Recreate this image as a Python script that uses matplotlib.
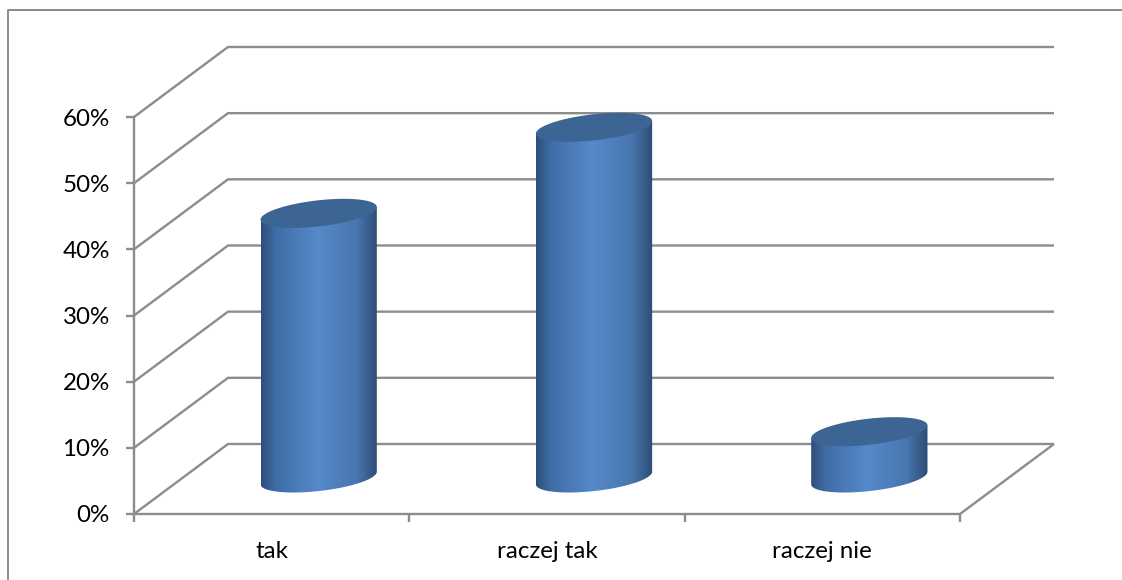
#!/usr/bin/env python
import matplotlib
matplotlib.use('Agg')
import matplotlib.pyplot as plt
import numpy as np
from matplotlib.lines import Line2D
from matplotlib.patches import Polygon

categories = ['tak', 'raczej tak', 'raczej nie']
values = [0.40, 0.53, 0.07]
y_ticks = [0.0, 0.1, 0.2, 0.3, 0.4, 0.5, 0.6]
y_labels = ['0%', '10%', '20%', '30%', '40%', '50%', '60%']

W, H = 1122, 580
GRID = '#8c8c8c'
FRAME = '#8a8a8a'
TOP = '#3c6594'

# front plane of the 3d box, in pixels
LEFT, RIGHT, BOTTOM, TOPY = 134, 960, 514, 117
DX_PX, DY_PX = 94, 70
A_PX, B_PX, TILT = 58.5, 13.0, np.radians(6.5)

plt.rcParams['font.family'] = ['Lato', 'DejaVu Sans']
fig = plt.figure(figsize=(W / 100, H / 100), dpi=100)
ax = fig.add_axes([LEFT / W, 1 - BOTTOM / H, (RIGHT - LEFT) / W, (BOTTOM - TOPY) / H])
ax.axis('off')

px_x = (RIGHT - LEFT) / 3
px_y = (BOTTOM - TOPY) / 0.6
dx = DX_PX / px_x
dy = DY_PX / px_y


def line(xs, ys):
    ax.plot(xs, ys, color=GRID, lw=1.7, clip_on=False, solid_capstyle='butt')


def ellipse(cx, cy, t):
    # tilted ellipse, sizes in pixels
    ex = A_PX * np.cos(t) * np.cos(TILT) - B_PX * np.sin(t) * np.sin(TILT)
    ey = A_PX * np.cos(t) * np.sin(TILT) + B_PX * np.sin(t) * np.cos(TILT)
    return cx + ex / px_x, cy + ey / px_y


for v in y_ticks:
    line([0, dx, 3 + dx], [v, v + dy, v + dy])
    line([-8 / px_x, 0], [v, v])
line([0, 0], [0, 0.6])
line([0, 3, 3 + dx], [0, 0, dy])
for i in range(4):
    line([i, i], [0, -8 / px_y])

for v, label in zip(y_ticks, y_labels):
    ax.text(-0.088, v - 2 / px_y, label, ha='right', va='center', fontsize=17.4, color='black')
for i, c in enumerate(categories):
    ax.text(i + 0.5, -0.056, c, ha='center', va='center', fontsize=17.4, color='black')

# colour across the cylinder, dark edges and light middle
grad_pos = [0.0, 0.12, 0.48, 0.82, 1.0]
grad_r = [0x2c, 0x3f, 0x56, 0x48, 0x2d]
grad_g = [0x4e, 0x6c, 0x89, 0x76, 0x4c]
grad_b = [0x78, 0xa4, 0xcc, 0xae, 0x74]
s = np.linspace(0, 1, 256)
grad = np.dstack([np.interp(s, grad_pos, c) / 255 for c in (grad_r, grad_g, grad_b)])

# parameter of the rightmost point of the ellipse
t0 = np.arctan2(-B_PX * np.sin(TILT), A_PX * np.cos(TILT))

for i, v in enumerate(values):
    cx = i + 0.5 + dx / 2
    base = dy / 2 + 1 / px_y
    low = np.linspace(t0 + np.pi, t0 + 2 * np.pi, 80)
    xb, yb = ellipse(cx, base, low)
    xr, yr = ellipse(cx, base + v, t0)
    xl, yl = ellipse(cx, base + v, t0 + np.pi)
    body = Polygon(np.column_stack([np.r_[xb, xr, xl], np.r_[yb, yr, yl]]),
                   closed=True, transform=ax.transData, fc='none', ec='none')
    ax.add_patch(body)
    im = ax.imshow(grad, extent=[xb.min(), xb.max(), base - 0.04, base + v + 0.03],
                   aspect='auto', zorder=3, interpolation='bilinear')
    im.set_clip_path(body)
    xe, ye = ellipse(cx, base + v, np.linspace(0, 2 * np.pi, 120))
    ax.fill(xe, ye, color=TOP, lw=0, zorder=4, clip_on=False)

ax.set_xlim(0, 3)
ax.set_ylim(0, 0.6)

# outer frame, only left and top edges are inside the picture
frame_x = [8 / W, 8 / W, 1]
frame_y = [0, 1 - 10 / H, 1 - 10 / H]
fig.add_artist(Line2D(frame_x, frame_y, transform=fig.transFigure, color=FRAME, lw=1.4))

fig.savefig('out.png', dpi=100)
